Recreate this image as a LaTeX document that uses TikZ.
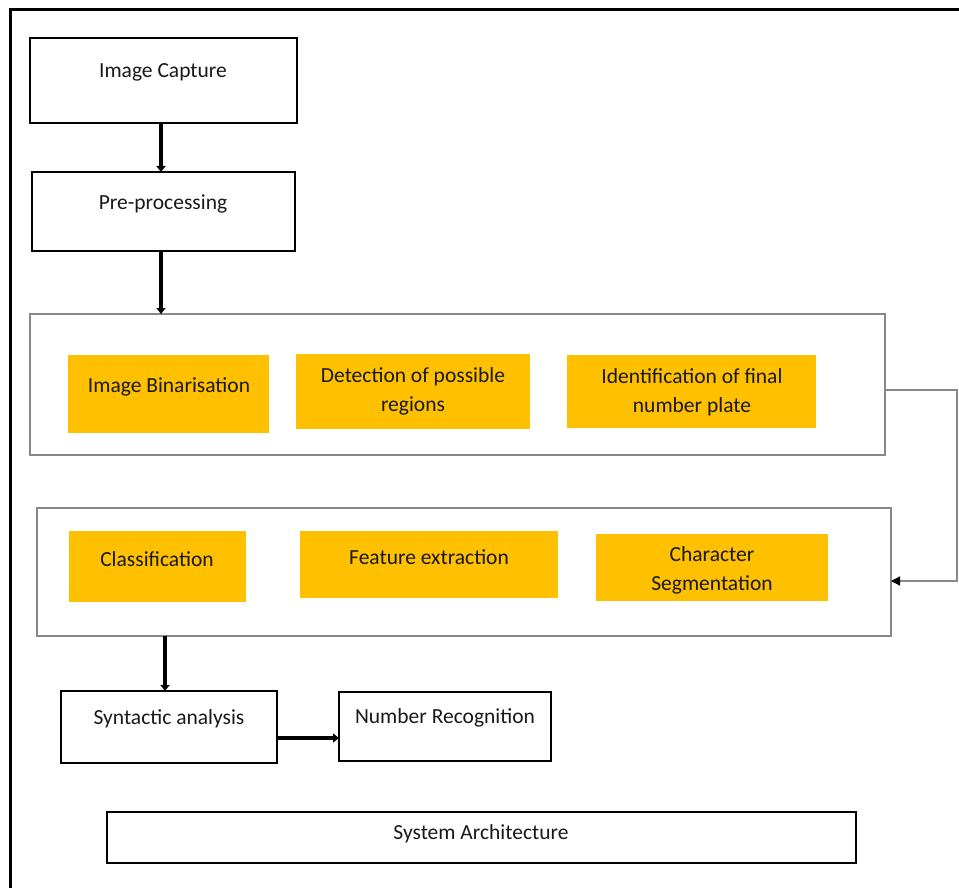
\documentclass[tikz,border=0pt]{standalone}
\usepackage{fontspec}
\setmainfont{Carlito}
\usetikzlibrary{arrows.meta}
\definecolor{gold}{HTML}{FFC000}
\definecolor{edgegray}{HTML}{888888}
\begin{document}
\begin{tikzpicture}[x=1pt,y=-1pt,
  box/.style={draw=black, line width=1.6pt, anchor=north west, outer sep=0pt, inner sep=0pt},
  bigbox/.style={draw=edgegray, line width=1.3pt, anchor=north west, outer sep=0pt, inner sep=0pt},
  goldbox/.style={fill=gold, anchor=north west, outer sep=0pt, inner sep=0pt},
  txt/.style={font=\fontsize{21.5}{29}\selectfont, align=center, inner sep=0pt, text=black!90},
  flowarrow/.style={line width=3.6pt, -{Triangle[length=6pt,width=9pt]}},
  sidearrow/.style={draw=edgegray, line width=1.2pt, -{Triangle[length=9pt,width=9pt,color=black]}}
]
\useasboundingbox (0,0) rectangle (959,888);
\fill[white] (0,0) rectangle (959,888);
\clip (0,0) rectangle (959,888);
% outer frame (right and bottom edges lie outside the picture)
\draw[line width=3pt] (10,900) -- (10,10) -- (980,10);

% top boxes
\node[box, minimum width=267pt, minimum height=85pt] (cap) at (30,38) {};
\node[txt] (capt) at (163,72) {Image Capture};
\node[box, minimum width=263pt, minimum height=79pt] (pre) at (32,172) {};
\node[txt] (pret) at (163,204) {Pre-processing};

% first big box
\node[bigbox, minimum width=855pt, minimum height=141pt] (big1) at (30,314) {};
\node[goldbox, minimum width=201pt, minimum height=78pt] (bin) at (68,355) {};
\node[txt] (bint) at (169,387) {Image Binarisation};
\node[goldbox, minimum width=234pt, minimum height=75pt] (det) at (296,354) {};
\node[txt] (dett) at (413,391) {Detection of possible\\regions};
\node[goldbox, minimum width=249pt, minimum height=73pt] (ide) at (567,355) {};
\node[txt] (idet) at (692,392) {Identification of final\\number plate};

% second big box
\node[bigbox, minimum width=854pt, minimum height=128pt] (big2) at (37,508) {};
\node[goldbox, minimum width=177pt, minimum height=71pt] (cls) at (69,531) {};
\node[txt] (clst) at (157,559) {Classification};
\node[goldbox, minimum width=258pt, minimum height=67pt] (fea) at (300,531) {};
\node[txt] (feat) at (429,557) {Feature extraction};
\node[goldbox, minimum width=232pt, minimum height=67pt] (chs) at (596,534) {};
\node[txt] (chst) at (712,570) {Character\\Segmentation};

% bottom boxes
\node[box, minimum width=216pt, minimum height=72pt] (syn) at (61,691) {};
\node[txt] (synt) at (169,719) {Syntactic analysis};
\node[box, minimum width=212pt, minimum height=69pt] (num) at (339,692) {};
\node[txt] (numt) at (445,718) {Number Recognition};
\node[box, minimum width=749pt, minimum height=51pt] (sys) at (107,812) {};
\node[txt] (syst) at (481,834) {System Architecture};

% connectors
\draw[flowarrow] (cap.south -| 161,0) -- (pre.north -| 161,0);
\draw[flowarrow] (pre.south -| 161,0) -- (big1.north -| 161,0);
\draw[flowarrow] (big2.south -| 165,0) -- (syn.north -| 165,0);
\draw[flowarrow] (syn.east |- 0,738) -- (num.west |- 0,738);
\coordinate (rtop) at (957,390);
\coordinate (rbot) at (957,581);
\draw[sidearrow] (big1.east |- rtop) -- (rtop) -- (rbot) -- (big2.east |- rbot);
\end{tikzpicture}
\end{document}
